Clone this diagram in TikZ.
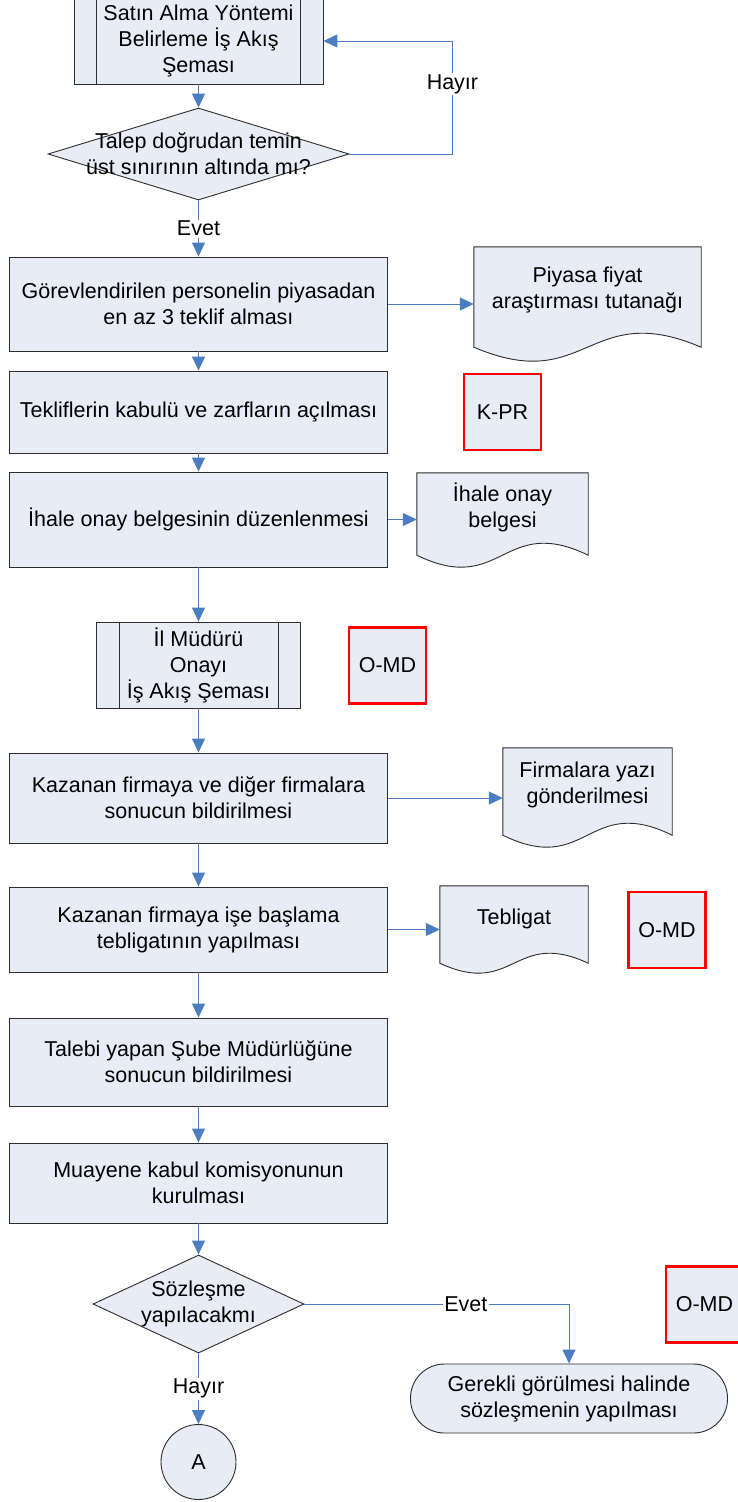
\documentclass[tikz,border=0pt]{standalone}
\usepackage{fontspec}
\setmainfont{Liberation Sans}
\usetikzlibrary{shapes.geometric,arrows.meta,calc}
\pgfdeclarelayer{background}
\pgfsetlayers{background,main}
\definecolor{boxfill}{RGB}{231,236,247}
\definecolor{linecol}{RGB}{74,126,193}
\definecolor{edgecol}{RGB}{45,45,45}
\definecolor{redcol}{RGB}{255,0,0}
\newcommand\fsz{\fontsize{21.5}{26}\selectfont}
\newcommand\docpath[2]{%
\begin{pgfonlayer}{background}
\draw[fill=boxfill, draw=edgecol, line width=0.9pt]
 (#1.north west) -- (#1.north east) -- ($(#1.south east)+(0,-#2)$)
 .. controls ($(#1.south west)!0.5!(#1.south east)+(0,{-4.46*#2})$)
 and ($(#1.south west)!0.5!(#1.south east)+(0,{2.46*#2})$)
 .. ($(#1.south west)+(0,-#2)$) -- cycle;
\end{pgfonlayer}}
\tikzset{
 base/.style={fill=boxfill, draw=edgecol, line width=0.9pt, inner sep=0pt, align=center, font=\fsz},
 proc/.style={base, rectangle, minimum width=378pt},
 subp/.style={base, rectangle},
 codebox/.style={base, rectangle, draw=redcol, line width=2.8pt, minimum width=77pt, minimum height=76pt},
 dec/.style={base, diamond},
 term/.style={base, rectangle, rounded corners=34pt},
 docnode/.style={rectangle, inner sep=0pt},
 lbl/.style={inner sep=0pt, align=center, font=\fsz},
 arrowline/.style={draw=linecol, line width=1pt, -{Triangle[length=14pt,width=13pt]}},
 cond/.style={fill=white, inner sep=1.5pt, font=\fsz}
}
\begin{document}
\begin{tikzpicture}[x=1pt,y=-1pt]
\useasboundingbox (0,0) rectangle (738,1502);

% top subprocess
\node[subp, minimum width=249pt, minimum height=86pt] (p1) at (198.5,41) {Satın Alma Yöntemi\\Belirleme İş Akış\\Şeması};
\draw[draw=edgecol, line width=0.9pt] ([xshift=23pt]p1.north west) -- ([xshift=23pt]p1.south west);
\draw[draw=edgecol, line width=0.9pt] ([xshift=-23pt]p1.north east) -- ([xshift=-23pt]p1.south east);

% decision 1
\node[dec, minimum width=301pt, minimum height=92pt,
 label={[lbl]center:{Talep doğrudan temin\\üst sınırının altında mı?}}] (q1) at (198.5,154) {};

% process boxes
\node[proc, minimum height=94pt] (b3) at (198.5,304) {Görevlendirilen personelin piyasadan\\en az 3 teklif alması};
\node[proc, minimum height=82pt] (b4) at (198.5,412) {Tekliflerin kabulü ve zarfların açılması};
\node[proc, minimum height=95pt] (b5) at (198.5,519.5) {İhale onay belgesinin düzenlenmesi};

% sub process 2
\node[subp, minimum width=204pt, minimum height=86pt] (p2) at (198.5,665) {İl Müdürü\\Onayı\\İş Akış Şeması};
\draw[draw=edgecol, line width=0.9pt] ([xshift=23pt]p2.north west) -- ([xshift=23pt]p2.south west);
\draw[draw=edgecol, line width=0.9pt] ([xshift=-23pt]p2.north east) -- ([xshift=-23pt]p2.south east);

\node[proc, minimum height=90pt] (b6) at (198.5,798) {Kazanan firmaya ve diğer firmalara\\sonucun bildirilmesi};
\node[proc, minimum height=85pt] (b7) at (198.5,929.5) {Kazanan firmaya işe başlama\\tebligatının yapılması};
\node[proc, minimum height=88pt] (b8) at (198.5,1062) {Talebi yapan Şube Müdürlüğüne\\sonucun bildirilmesi};
\node[proc, minimum height=80pt] (b9) at (198.5,1183) {Muayene kabul komisyonunun\\kurulması};

% decision 2
\node[dec, minimum width=211pt, minimum height=98pt,
 label={[lbl]center:{Sözleşme\\yapılacakmı}}] (q2) at (198.5,1304) {};

% terminal and connector
\node[term, minimum width=317pt, minimum height=69pt] (t1) at (569,1398.5) {Gerekli görülmesi halinde\\sözleşmenin yapılması};
\node[base, circle, minimum size=75pt] (A) at (198.5,1462) {A};

% documents
\node[docnode, minimum width=227pt, minimum height=114pt,
 label={[lbl, yshift=14pt]center:{Piyasa fiyat\\araştırması tutanağı}}] (d1) at (587.5,304) {};
\docpath{d1}{14}
\node[docnode, minimum width=171pt, minimum height=94pt,
 label={[lbl, yshift=12.5pt]center:{İhale onay\\belgesi}}] (d2) at (502.5,520) {};
\docpath{d2}{12}
\node[docnode, minimum width=169pt, minimum height=99pt,
 label={[lbl, yshift=12.5pt]center:{Firmalara yazı\\gönderilmesi}}] (d3) at (587.5,797.5) {};
\docpath{d3}{12}
\node[docnode, minimum width=148pt, minimum height=87pt,
 label={[lbl, yshift=11pt]center:{Tebligat}}] (d4) at (514,929.5) {};
\docpath{d4}{10}

% code boxes
\node[codebox] (c1) at (502.5,412) {K-PR};
\node[codebox] (c2) at (387.5,665.5) {O-MD};
\node[codebox] (c3) at (667,930) {O-MD};
\node[codebox] (c4) at (704.5,1304.5) {O-MD};

% connectors
\draw[arrowline] (p1.south) -- (q1.north);
\draw[arrowline] (q1.east) -- ++(103,0) |- node[cond, pos=0.31]{Hayır} (p1.east);
\draw[arrowline] (q1.south) -- node[cond]{Evet} (b3.north);
\draw[arrowline] (b3.south) -- (b4.north);
\draw[arrowline] (b4.south) -- (b5.north);
\draw[arrowline] (b5.south) -- (p2.north);
\draw[arrowline] (p2.south) -- (b6.north);
\draw[arrowline] (b6.south) -- (b7.north);
\draw[arrowline] (b7.south) -- (b8.north);
\draw[arrowline] (b8.south) -- (b9.north);
\draw[arrowline] (b9.south) -- (q2.north);
\draw[arrowline] (q2.south) -- node[cond]{Hayır} (A.north);
\draw[arrowline] (q2.east) -| node[cond, pos=0.305]{Evet} (t1.north);
\draw[arrowline] (b3.east) -- (b3.east -| d1.west);
\draw[arrowline] (b5.east) -- (b5.east -| d2.west);
\draw[arrowline] (b6.east) -- (b6.east -| d3.west);
\draw[arrowline] (b7.east) -- (b7.east -| d4.west);
\end{tikzpicture}
\end{document}
